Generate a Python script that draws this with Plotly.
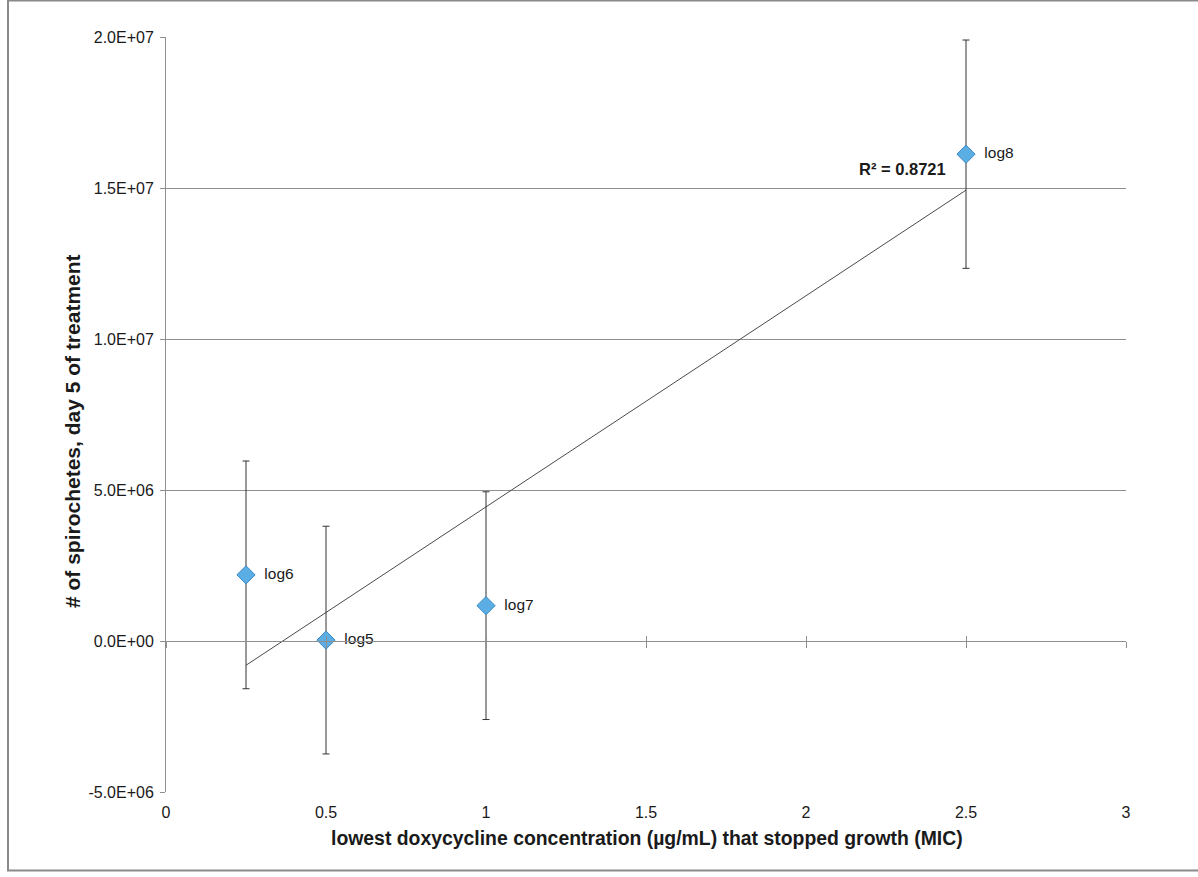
import numpy as np
import plotly.graph_objects as go

# ---- data ----
mic = [0.25, 0.5, 1.0, 2.5]                      # µg/mL
spirochetes = [2.19e6, 0.03e6, 1.17e6, 16.12e6]  # count, day 5
err = [3.77e6, 3.77e6, 3.77e6, 3.78e6]
point_labels = ["log6", "log5", "log7", "log8"]
r2_text = "R² = 0.8721"

x_range = [0, 3]
x_ticks = [0, 0.5, 1, 1.5, 2, 2.5, 3]
x_ticktext = ["0", "0.5", "1", "1.5", "2", "2.5", "3"]
y_range = [-5e6, 2e7]
y_ticks = [-5e6, 0, 5e6, 1e7, 1.5e7, 2e7]
y_ticktext = ["-5.0E+06", "0.0E+00", "5.0E+06", "1.0E+07", "1.5E+07", "2.0E+07"]

x_title = "lowest doxycycline concentration (µg/mL) that stopped growth (MIC)"
y_title = "# of spirochetes, day 5 of treatment"

FONT = "Liberation Sans, Arial, sans-serif"
GRID = "#8f8f8f"
TXT = "#1a1a1a"

# linear trendline (least squares)
slope, intercept = np.polyfit(mic, spirochetes, 1)
tx = [min(mic), max(mic)]
ty = [slope * v + intercept for v in tx]

fig = go.Figure()

fig.add_trace(go.Scatter(
    x=tx, y=ty, mode="lines",
    line=dict(color="#4a4a4a", width=1),
    hoverinfo="skip", showlegend=False,
))

fig.add_trace(go.Scatter(
    x=mic, y=spirochetes, mode="markers+text",
    text=["\u00a0\u00a0" + s for s in point_labels],
    textposition="middle right",
    textfont=dict(family=FONT, size=15.5, color=TXT),
    marker=dict(symbol="diamond", size=14, color="#5aaee3",
                line=dict(color="#3a88c4", width=1)),
    error_y=dict(type="data", array=err, visible=True,
                 color="#333333", thickness=1, width=3.5),
    showlegend=False,
))

# invisible traces to hold the crossing-tick axis at y = 0
fig.add_trace(go.Scatter(x=[], y=[], xaxis="x2", showlegend=False))
fig.add_trace(go.Scatter(x=[], y=[], xaxis="x3", showlegend=False))

zero_pos = (0 - y_range[0]) / (y_range[1] - y_range[0])

# R² label next to the end of the trendline
fig.add_annotation(
    x=tx[1], y=ty[1], xref="x", yref="y",
    text="<b>" + r2_text + "</b>", showarrow=False,
    xanchor="right", yanchor="middle", xshift=-18, yshift=21,
    font=dict(family=FONT, size=16.5, color=TXT),
)

# axis titles
fig.add_annotation(
    x=0.501, y=-0.061, xref="paper", yref="paper",
    text="<b>" + x_title + "</b>", showarrow=False,
    xanchor="center", yanchor="middle",
    font=dict(family=FONT, size=19.4, color=TXT),
)
fig.add_annotation(
    x=-0.098, y=0.478, xref="paper", yref="paper",
    text="<b>" + y_title + "</b>", showarrow=False, textangle=-90,
    xanchor="center", yanchor="middle",
    font=dict(family=FONT, size=21, color=TXT),
)

# outer chart border (open on the right, as in the reference)
L, R, T, B = 166, 72, 37, 85
W, H = 1198, 877
pw, ph = W - L - R, H - T - B
fig.add_shape(
    type="rect", xref="paper", yref="paper",
    x0=(8 - L) / pw, x1=(W + 60 - L) / pw,
    y0=((H - B) - 870.5) / ph, y1=((H - B) - 0.5) / ph,
    line=dict(color="#8a8a8a", width=2), fillcolor="rgba(0,0,0,0)",
    layer="below",
)

fig.update_layout(
    width=W, height=H,
    margin=dict(l=L, r=R, t=T, b=B),
    paper_bgcolor="white", plot_bgcolor="white",
    font=dict(family=FONT, size=16, color=TXT),
    xaxis=dict(
        range=x_range, tickvals=x_ticks, ticktext=x_ticktext,
        showgrid=False, zeroline=False, showline=False,
        ticks="", ticklabelstandoff=9,
        tickfont=dict(family=FONT, size=16, color=TXT),
    ),
    xaxis2=dict(
        range=x_range, tickvals=x_ticks, overlaying="x",
        anchor="free", position=zero_pos,
        showticklabels=False, showgrid=False, zeroline=False,
        showline=True, linecolor=GRID, linewidth=1,
        ticks="outside", ticklen=6, tickcolor=GRID, tickwidth=1,
    ),
    xaxis3=dict(
        range=x_range, tickvals=x_ticks, overlaying="x",
        anchor="free", position=zero_pos,
        showticklabels=False, showgrid=False, zeroline=False,
        showline=False,
        ticks="inside", ticklen=5, tickcolor=GRID, tickwidth=1,
    ),
    yaxis=dict(
        range=y_range, tickvals=y_ticks, ticktext=y_ticktext,
        showgrid=True, gridcolor=GRID, gridwidth=1,
        zeroline=False, showline=True, linecolor=GRID, linewidth=1,
        ticks="outside", ticklen=5, tickcolor=GRID,
        ticklabelstandoff=3,
        tickfont=dict(family=FONT, size=16, color=TXT),
    ),
)

fig.write_html(
    "out.html",
    config={"displayModeBar": False},
    post_script="document.body.style.margin='0px';",
)
